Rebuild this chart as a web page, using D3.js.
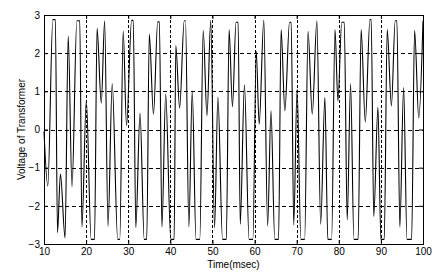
<!DOCTYPE html>
<html>
<head>
<meta charset="utf-8">
<script src="https://cdn.jsdelivr.net/npm/d3@7"></script>
<style>
  html, body { margin: 0; padding: 0; background: #fff; }
  svg text { font-family: "Liberation Sans", Arial, sans-serif; font-size: 10px; fill: #000; }
</style>
</head>
<body>
<div id="chart"></div>
<script>
/* Transformer voltage trace, MATLAB-style axes with dashed grid */

// turning points of the trace (msec, volts)
const timeMs = [
  10.0, 10.9, 12.1, 12.7, 13.2, 13.9, 15.0, 15.75, 16.65, 17.8, 18.5, 19.0,
  20.05, 21.2, 22.0, 22.6, 23.6, 24.4, 25.2, 26.2, 27.5, 28.0, 28.8, 29.6,
  30.8, 31.2, 31.8, 32.8, 33.8, 34.4, 35.0, 36.0, 37.0, 37.4, 38.0, 38.9,
  40.1, 40.9, 41.3, 42.2, 43.3, 43.6, 44.4, 45.2, 46.1, 47.0, 47.8, 48.7,
  49.6, 50.5, 51.3, 52.4, 53.3, 53.95, 54.75, 55.6, 56.1, 56.6, 57.6, 58.7,
  59.6, 60.4, 61.1, 62.2, 63.1, 63.9, 64.8, 65.7, 66.3, 67.2, 68.3, 68.7,
  69.3, 70.1, 71.0, 71.9, 72.7, 73.7, 74.8, 75.7, 76.7, 77.4, 78.3, 79.1,
  79.8, 80.7, 81.3, 82.0, 82.8, 83.6, 84.6, 85.3, 86.3, 87.4, 87.7, 88.3,
  89.3, 90.0, 90.8, 91.5, 92.5, 93.4, 93.8, 94.5, 95.4, 96.2, 97.3, 98.0,
  99.0, 100.0
];
const voltage = [
  -0.05, -1.48, 2.88, 2.88, -2.70, -1.17, -2.84, 2.45, -1.50, 2.85, 2.85, -2.55,
  0.76, -2.88, -2.88, 2.65, 0.69, 2.85, -2.53, 1.20, -2.88, -2.88, 2.58, 0.10,
  2.86, 2.86, -2.57, 0.43, -2.88, -2.88, 2.50, 0.40, 2.82, 2.82, -2.55, 0.93,
  -2.88, -2.88, 2.20, 0.56, 2.85, 2.85, -2.55, 1.01, -2.88, -2.88, 2.60, 0.36,
  2.86, -2.58, 0.85, -2.88, -2.88, 2.62, 0.60, 2.81, 2.81, -2.48, 1.17, -2.88,
  -2.88, 2.05, 0.14, 2.87, -2.53, 0.49, -2.88, -2.88, 2.62, 0.49, 2.81, 2.81,
  -2.50, 1.06, -2.88, -2.88, 2.57, 0.40, 2.85, -2.48, 0.84, -2.88, -2.88, 2.62,
  0.75, 2.81, 2.81, -2.37, 1.20, -2.88, -2.88, 2.62, 0.20, 2.88, 2.88, -2.28,
  0.58, -2.88, -2.88, 2.62, 0.62, 2.85, 2.85, -2.55, 1.10, -2.88, -2.88, 2.60,
  0.30, 2.85
];

const xTicks = [10, 20, 30, 40, 50, 60, 70, 80, 90, 100];
const yTicks = [-3, -2, -1, 0, 1, 2, 3];

const width = 439;
const height = 273;
const margin = { top: 15, right: 16, bottom: 29, left: 44 };

const svg = d3.select("#chart")
  .append("svg")
  .attr("width", width)
  .attr("height", height);

const x = d3.scaleLinear()
  .domain([10, 100])
  .range([margin.left, width - margin.right]);

const y = d3.scaleLinear()
  .domain([-3, 3])
  .range([height - margin.bottom, margin.top]);

// Grid
svg.append("g")
  .selectAll("line")
  .data(xTicks.slice(1, -1))
  .join("line")
  .attr("x1", d => Math.round(x(d)) + 0.5)
  .attr("x2", d => Math.round(x(d)) + 0.5)
  .attr("y1", y(3))
  .attr("y2", y(-3))
  .attr("stroke", "#000")
  .attr("stroke-dasharray", "3,2")
  .attr("shape-rendering", "crispEdges");

svg.append("g")
  .selectAll("line")
  .data(yTicks.slice(1, -1))
  .join("line")
  .attr("x1", x(10))
  .attr("x2", x(100))
  .attr("y1", d => Math.round(y(d)) + 0.5)
  .attr("y2", d => Math.round(y(d)) + 0.5)
  .attr("stroke", "#000")
  .attr("stroke-dasharray", "4,3")
  .attr("shape-rendering", "crispEdges");

// Trace
const points = timeMs.map((t, i) => ({ t, v: voltage[i] }));

const line = d3.line()
  .x(d => x(d.t))
  .y(d => y(d.v))
  .curve(d3.curveMonotoneX);

svg.append("path")
  .datum(points)
  .attr("d", line)
  .attr("fill", "none")
  .attr("stroke", "#000")
  .attr("stroke-width", 1.1);

// Axes (ticks point inward like MATLAB)
svg.append("g")
  .attr("transform", `translate(0, ${y(-3)})`)
  .call(d3.axisBottom(x).tickValues(xTicks).tickSize(-4).tickPadding(4).tickFormat(d3.format("d")))
  .call(g => g.selectAll(".domain").remove())
  .call(g => g.selectAll("text").attr("font-size", 10).attr("font-family", null));

svg.append("g")
  .attr("transform", `translate(${x(10)}, 0)`)
  .call(d3.axisLeft(y).tickValues(yTicks).tickSize(-4).tickPadding(4).tickFormat(d3.format("d")))
  .call(g => g.selectAll(".domain").remove())
  .call(g => g.selectAll("text").attr("font-size", 10).attr("font-family", null));

svg.append("g")
  .attr("transform", `translate(0, ${y(3)})`)
  .call(d3.axisTop(x).tickValues(xTicks).tickSize(-4).tickFormat(""))
  .call(g => g.selectAll(".domain").remove());

svg.append("g")
  .attr("transform", `translate(${x(100)}, 0)`)
  .call(d3.axisRight(y).tickValues(yTicks).tickSize(-4).tickFormat(""))
  .call(g => g.selectAll(".domain").remove());

// Box
svg.append("rect")
  .attr("x", x(10) + 0.5)
  .attr("y", y(3) + 0.5)
  .attr("width", x(100) - x(10))
  .attr("height", y(-3) - y(3))
  .attr("fill", "none")
  .attr("stroke", "#000")
  .attr("shape-rendering", "crispEdges");

// Labels
svg.append("text")
  .attr("x", (x(10) + x(100)) / 2)
  .attr("y", height - 5)
  .attr("text-anchor", "middle")
  .text("Time(msec)");

svg.append("text")
  .attr("x", -(y(3) + y(-3)) / 2)
  .attr("y", 25)
  .attr("transform", "rotate(-90)")
  .attr("text-anchor", "middle")
  .text("Voltage of Transformer");
</script>
</body>
</html>
